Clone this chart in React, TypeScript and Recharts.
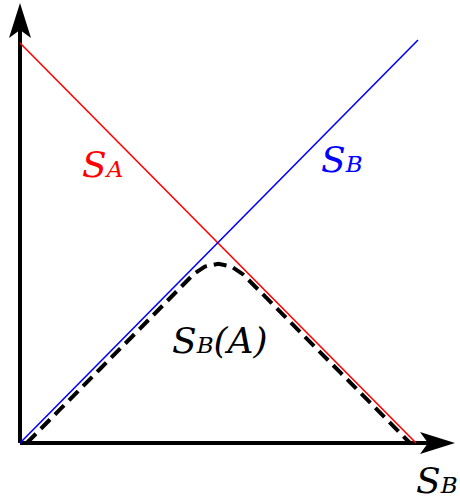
import { LineChart, Line, XAxis, YAxis, ReferenceLine, ReferenceDot } from 'recharts';

// S_A (red) and S_B (blue) straight lines
const redX = [0, 99];
const redY = [100, 0];
const blueX = [0, 99.5];
const blueY = [0, 100.75];

// S_B(A) dashed curve
const dashX = [1.7, 10, 20, 30, 40, 43.4, 46.2, 49.6, 52.9, 55.7, 60, 70, 80, 90, 97.5];
const dashY = [0, 8.4, 18.5, 28.6, 38.75, 42.2, 44.1, 44.8, 44.1, 42.2, 37.9, 27.8, 17.7, 7.6, 0];

// axis ends (arrow tips)
const xAxisEnd = 108.75;
const yAxisEnd = 110;

// labels: [x, y, main, sub, rest, color]
const labels: [number, number, string, string, string, string][] = [
  [15.5, 66.5, 'S', 'A', '', '#ff0000'],
  [75.25, 67.75, 'S', 'B', '', '#0000ff'],
  [38, 22.5, 'S', 'B', '(A)', '#000'],
  [99, -12.5, 'S', 'B', '', '#000'],
];

const pts = (xs: number[], ys: number[]) => xs.map((x, i) => ({ x, y: ys[i] }));

const Arrow = (props: any) => {
  const { x1, y1, x2, y2 } = props;
  const ang = Math.atan2(y2 - y1, x2 - x1);
  const deg = (ang * 180) / Math.PI;
  const ex = x2 - Math.cos(ang) * 27;
  const ey = y2 - Math.sin(ang) * 27;
  return (
    <g>
      <line x1={x1} y1={y1} x2={ex} y2={ey} stroke="#000" strokeWidth={4} />
      <path d="M0,0 L-35,-11 L-27,0 L-35,11 Z" fill="#000" transform={`translate(${x2},${y2}) rotate(${deg})`} />
    </g>
  );
};

const makeLabel = (main: string, sub: string, rest: string, color: string) => (p: any) => (
  <text x={p.cx} y={p.cy} fill={color} fontFamily="'DejaVu Serif', serif" fontStyle="italic" fontSize={36}>
    {main}
    <tspan fontSize={23}>{sub}</tspan>
    {rest}
  </text>
);

export default function App() {
  return (
    <div style={{ position: 'absolute', left: 0, top: 0, background: '#fff' }}>
      <LineChart width={460} height={501} margin={{ top: 0, right: 0, bottom: 0, left: 0 }}>
        <XAxis dataKey="x" type="number" domain={[-5, 110]} hide allowDataOverflow />
        <YAxis type="number" domain={[-14.5, 110.75]} hide allowDataOverflow />
        <ReferenceLine segment={[{ x: 0, y: 0 }, { x: 0, y: yAxisEnd }]} shape={Arrow} ifOverflow="visible" />
        <ReferenceLine segment={[{ x: 0, y: 0 }, { x: xAxisEnd, y: 0 }]} shape={Arrow} ifOverflow="visible" />
        <Line data={pts(redX, redY)} dataKey="y" stroke="#ff0000" strokeWidth={1.6} dot={false} activeDot={false} isAnimationActive={false} />
        <Line data={pts(blueX, blueY)} dataKey="y" stroke="#0000ff" strokeWidth={1.6} dot={false} activeDot={false} isAnimationActive={false} />
        <Line data={pts(dashX, dashY)} dataKey="y" stroke="#000" strokeWidth={4} strokeDasharray="13 7" dot={false} activeDot={false} isAnimationActive={false} />
        {labels.map(([x, y, m, s, r, c], i) => (
          <ReferenceDot key={i} x={x} y={y} r={0} ifOverflow="visible" shape={makeLabel(m, s, r, c)} />
        ))}
      </LineChart>
    </div>
  );
}
